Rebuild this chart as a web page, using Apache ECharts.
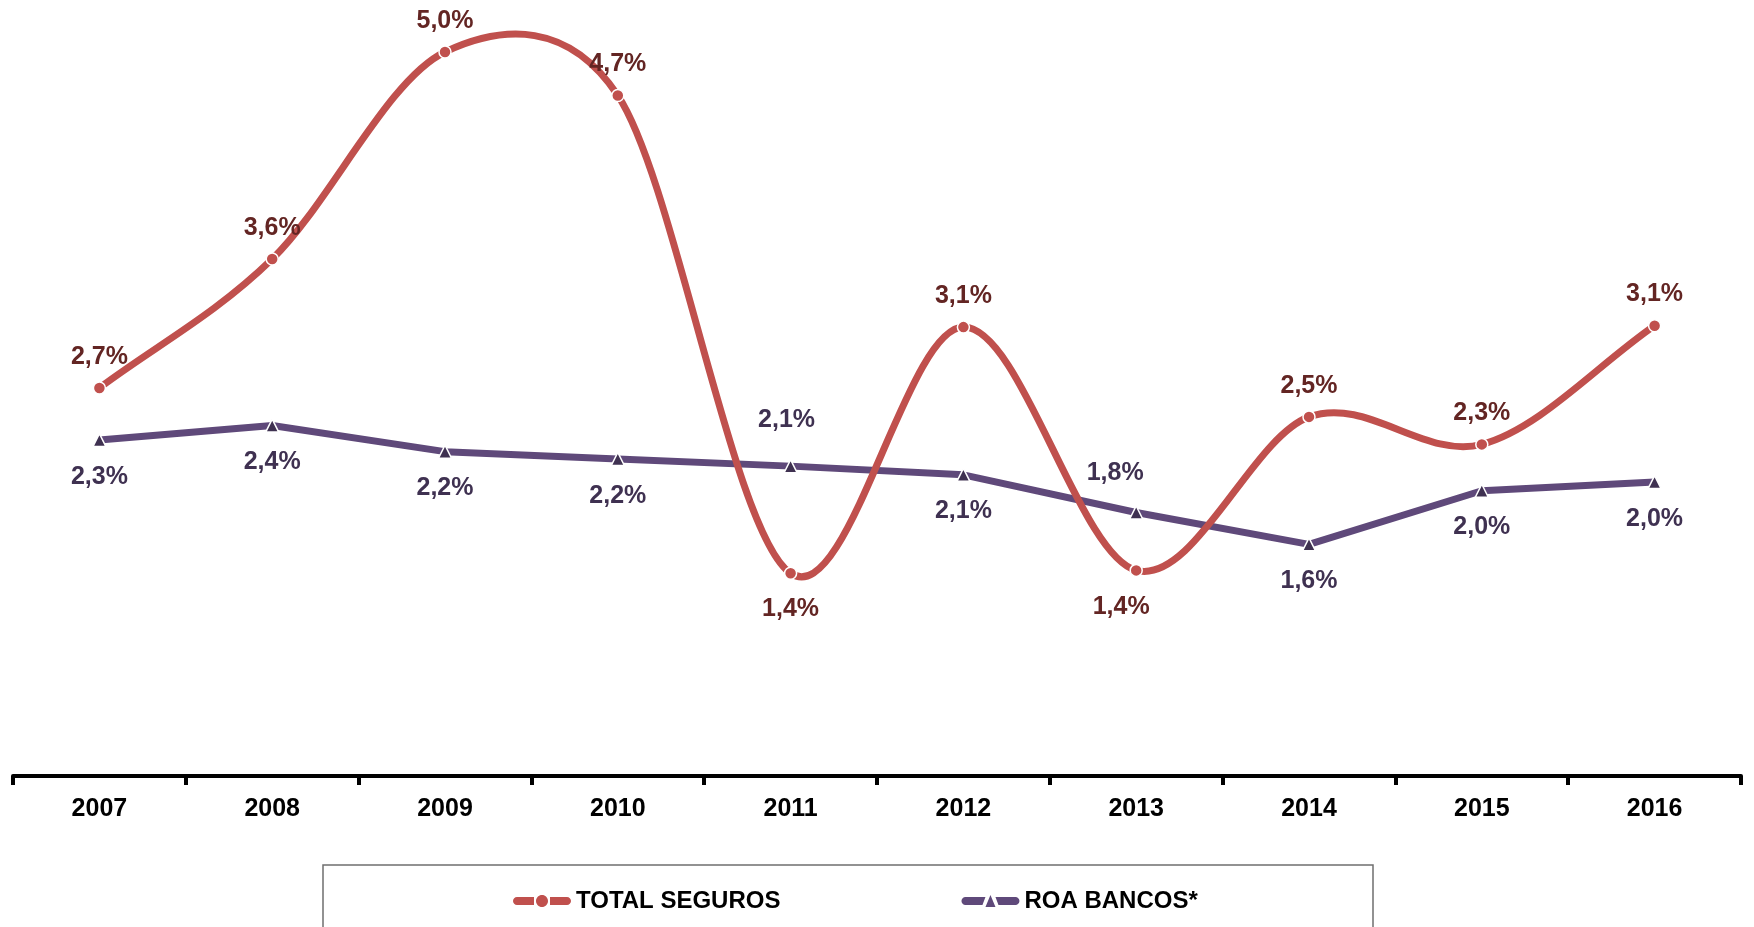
<!DOCTYPE html>
<html lang="pt">
<head>
	<meta charset="UTF-8">
	<title>ROA Seguros vs Bancos</title>
	<script src="https://cdn.jsdelivr.net/npm/echarts@6/dist/echarts.min.js"></script>
	<style>
		html, body { margin: 0; padding: 0; background: #fff; }
		#main { width: 1754px; height: 927px; }
	</style>
</head>
<body>
	<div id="main"></div>
<script>
// dados
var anos = ['2007', '2008', '2009', '2010', '2011', '2012', '2013', '2014', '2015', '2016'];
var totalSeguros = [2.68, 3.57, 5.0, 4.7, 1.4, 3.1, 1.42, 2.48, 2.29, 3.11];
var roaBancos = [2.32, 2.42, 2.24, 2.19, 2.14, 2.08, 1.82, 1.60, 1.97, 2.03];

var VERMELHO = '#C0504D';
var ROXO = '#5F497A';

function fmt(p) {
	return p.value.toFixed(1).replace('.', ',') + '%';
}

// rótulos: em cima / em baixo, e pequenos desvios
function montarDados(valores, abaixo, desvio, distAcima, distAbaixo) {
	return valores.map(function (v, i) {
		var baixo = abaixo.indexOf(i) >= 0;
		return {
			value: v,
			label: {
				position: baixo ? 'bottom' : 'top',
				distance: baixo ? distAbaixo : (distAcima[i] || distAcima.def),
				offset: [desvio[i] || 0, 0]
			}
		};
	});
}

function dist(a, b) {
	return Math.sqrt((a[0] - b[0]) * (a[0] - b[0]) + (a[1] - b[1]) * (a[1] - b[1]));
}

// curva suavizada ao estilo do Excel (bezier com pontos de controlo a 1/6, limitados)
function segmentoSuave(params, api) {
	var i = params.dataIndex;
	var n = totalSeguros.length;
	if (i >= n - 1) return null;
	var pt = function (k) { return api.coord([k, totalSeguros[k]]); };
	var p1 = pt(i), p2 = pt(i + 1);
	var p0 = i > 0 ? pt(i - 1) : p1;
	var p3 = i + 2 < n ? pt(i + 2) : p2;
	var d12 = dist(p1, p2), d02 = dist(p0, p2), d13 = dist(p1, p3);
	var f0 = i > 0 ? 1 / 6 : 1 / 3;
	var f1 = i + 2 < n ? 1 / 6 : 1 / 3;
	if (d02 * f0 > d12 / 2) f0 = d12 / 2 / d02;
	if (d13 * f1 > d12 / 2) f1 = d12 / 2 / d13;
	return {
		type: 'bezierCurve',
		shape: {
			x1: p1[0], y1: p1[1],
			cpx1: p1[0] + f0 * (p2[0] - p0[0]), cpy1: p1[1] + f0 * (p2[1] - p0[1]),
			cpx2: p2[0] - f1 * (p3[0] - p1[0]), cpy2: p2[1] - f1 * (p3[1] - p1[1]),
			x2: p2[0], y2: p2[1]
		},
		style: { stroke: VERMELHO, lineWidth: 7, fill: null, lineCap: 'round' }
	};
}

var labelFont = {
	fontFamily: '"Liberation Sans", Arial, sans-serif',
	fontWeight: 'bold',
	fontSize: 25
};

// ícones da legenda: barra grossa com o marcador ao meio
var iconeSeguros = 'path://M4,2 L21,2 L21,10 L4,10 C1.8,10 0,8.2 0,6 C0,3.8 1.8,2 4,2 Z ' +
	'M23,6 C23,2.7 25.7,0 29,0 C32.3,0 35,2.7 35,6 C35,9.3 32.3,12 29,12 C25.7,12 23,9.3 23,6 Z ' +
	'M37,2 L54,2 C56.2,2 58,3.8 58,6 C58,8.2 56.2,10 54,10 L37,10 Z';
var iconeBancos = 'path://M4,2 L24,2 L21,10 L4,10 C1.8,10 0,8.2 0,6 C0,3.8 1.8,2 4,2 Z ' +
	'M24,12 L29,0 L34,12 Z ' +
	'M34,2 L54,2 C56.2,2 58,3.8 58,6 C58,8.2 56.2,10 54,10 L37,10 Z';

var chart = echarts.init(document.getElementById('main'));
var option = {
	animation: false,
	grid: { left: 13, right: 13, top: 52, bottom: 151 },
	xAxis: {
		type: 'category',
		data: anos,
		axisLine: { lineStyle: { color: '#000', width: 4 } },
		axisTick: { show: true, length: 9, lineStyle: { color: '#000', width: 4 } },
		axisLabel: {
			color: '#000',
			fontFamily: '"Liberation Sans", Arial, sans-serif',
			fontWeight: 'bold',
			fontSize: 25,
			margin: 21
		}
	},
	yAxis: {
		type: 'value',
		min: 0,
		max: 5,
		show: false,
		splitLine: { show: false }
	},
	legend: {
		left: 508,
		top: 883,
		itemWidth: 58,
		itemHeight: 12,
		itemGap: 181,
		symbolKeepAspect: false,
		textStyle: {
			color: '#000',
			fontFamily: '"Liberation Sans", Arial, sans-serif',
			fontWeight: 'bold',
			fontSize: 24,
			lineHeight: 26
		},
		data: [
			{ name: 'TOTAL SEGUROS', icon: iconeSeguros, itemStyle: { color: VERMELHO, borderWidth: 0 } },
			{ name: 'ROA BANCOS*', icon: iconeBancos, itemStyle: { color: ROXO, borderWidth: 0 } }
		]
	},
	graphic: [{
		type: 'rect',
		shape: { x: 323, y: 865, width: 1050, height: 100 },
		style: { fill: 'none', stroke: '#6f6f6f', lineWidth: 1.5 },
		silent: true
	}],
	series: [
		{
			name: 'TOTAL SEGUROS curva',
			type: 'custom',
			renderItem: segmentoSuave,
			clip: false,
			data: totalSeguros.map(function (v, i) { return [i, v]; }),
			z: 3
		},
		{
			name: 'TOTAL SEGUROS',
			type: 'line',
			clip: false,
			symbol: 'circle',
			symbolSize: 12,
			color: VERMELHO,
			lineStyle: { width: 0, opacity: 0 },
			itemStyle: { color: VERMELHO, borderColor: '#fff', borderWidth: 1.5 },
			label: Object.assign({ show: true, color: '#632523', formatter: fmt }, labelFont),
			data: montarDados(totalSeguros, [4, 6], { 6: -15 }, { def: 12 }, 17),
			z: 4
		},
		{
			name: 'ROA BANCOS*',
			type: 'line',
			clip: false,
			symbol: 'triangle',
			symbolSize: 13,
			color: ROXO,
			lineStyle: { color: ROXO, width: 7 },
			itemStyle: { color: '#3F3151', borderColor: '#fff', borderWidth: 1.5 },
			label: Object.assign({ show: true, color: '#3F3151', formatter: fmt }, labelFont),
			data: montarDados(roaBancos, [0, 1, 2, 3, 5, 7, 8, 9], { 4: -4, 6: -21 }, { def: 26, 6: 20 }, 17),
			z: 2
		}
	]
};
chart.setOption(option);
</script>
</body>
</html>
